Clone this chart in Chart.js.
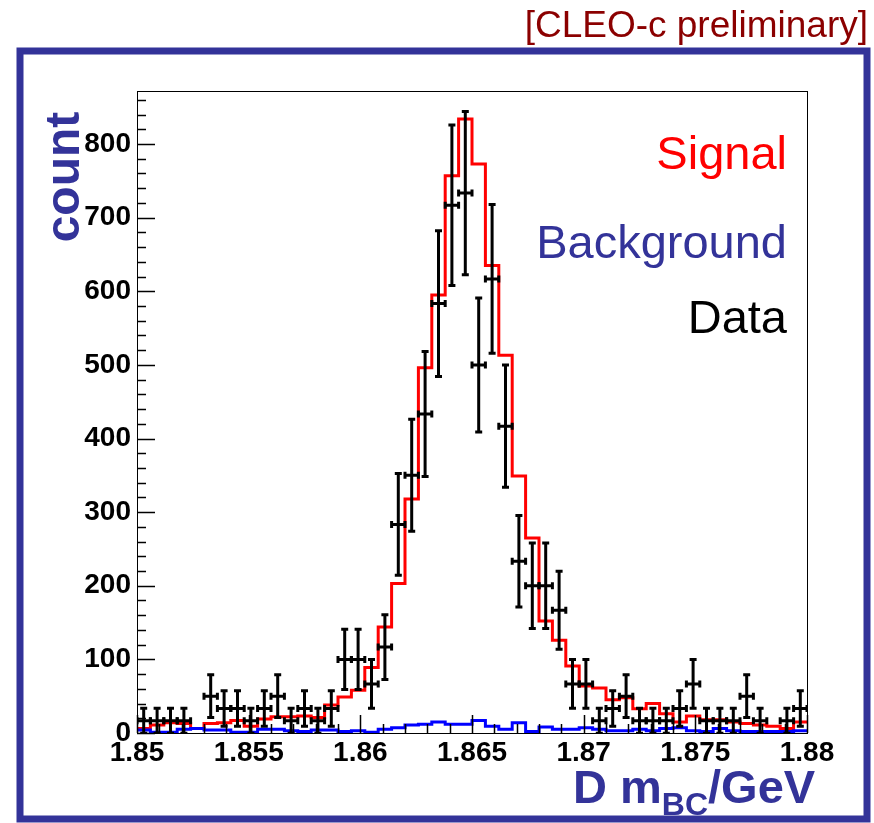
<!DOCTYPE html>
<html>
<head>
<meta charset="utf-8">
<script src="https://cdn.jsdelivr.net/npm/chart.js@4.4.1/dist/chart.umd.min.js"></script>
<style>
html, body { margin: 0; padding: 0; background: #fff; }
#wrap { width: 874px; height: 823px; position: relative; }
</style>
</head>
<body>
<div id="wrap"><canvas id="hist"></canvas></div>
<script>
// D m_BC histogram: 50 bins between 1.85 and 1.88 GeV
var xMin = 1.85, xMax = 1.88, nBins = 50;
var xTicks = [1.85, 1.855, 1.86, 1.865, 1.87, 1.875, 1.88];
var xTickLabels = ['1.85', '1.855', '1.86', '1.865', '1.87', '1.875', '1.88'];
var yTicks = [0, 100, 200, 300, 400, 500, 600, 700, 800];

// fitted signal (red)
var signal = [6, 11, 14, 13, 6, 13, 14, 17, 9, 19,
  22, 22, 23, 21, 38, 49, 58, 89, 144, 203,
  318, 496, 595, 757, 834, 773, 635, 513, 349, 265,
  152, 126, 91, 64, 61, 45, 48, 33, 40, 26,
  15, 23, 18, 18, 15, 13, 11, 9, 6, 15];

// background (blue)
var background = [4, 1, 1, 5, 6, 4, 4, 1, 1, 5,
  5, 3, 2, 4, 4, 2, 3, 1, 5, 7,
  11, 12, 15, 12, 12, 17, 9, 5, 14, 2,
  8, 5, 5, 7, 5, 3, 3, 5, 3, 6,
  7, 3, 2, 6, 3, 2, 2, 2, 2, 3];

// data points with errors (null = empty bin)
var counts = [16.7, 16.7, 16.7, 16.7, null, 50, 33.3, 33.3, 16.7, 33.3,
  50, 16.7, 33.3, 16.7, 33.3, 100, 100, 66.7, 116.7, 283.3,
  350, 433.3, 583.3, 716.7, 733.3, 500, 616.7, 416.7, 233.3, 200,
  200, 166.7, 66.7, 66.7, 16.7, 33.3, 50, 16.7, 16.7, 16.7,
  33.3, 66.7, 16.7, 16.7, 16.7, 50, 16.7, null, 16.7, 33.3];
var errors = [17, 17, 17, 17, null, 29, 24, 24, 17, 24,
  29, 17, 24, 17, 24, 41, 41, 33, 44, 69,
  76, 85, 99, 109, 111, 91, 101, 83, 62, 58,
  58, 53, 33, 33, 17, 24, 29, 17, 17, 17,
  24, 33, 17, 17, 17, 29, 17, null, 17, 24];

var binW = (xMax - xMin) / nBins;

function stepPoints(vals) {
  var pts = vals.map(function (v, i) { return { x: xMin + i * binW, y: v }; });
  pts.push({ x: xMax, y: vals[vals.length - 1] });
  return pts;
}

var FONT = '"Liberation Sans", Arial, sans-serif';
var TITLE_BLUE = '#333399';

var decor = {
  id: 'decor',
  beforeDraw: function (chart) {
    var c = chart.ctx;
    c.save();
    c.fillStyle = '#fff';
    c.fillRect(0, 0, chart.width, chart.height);
    c.strokeStyle = TITLE_BLUE;
    c.lineWidth = 7;
    c.strokeRect(20, 51, 847, 768);
    c.restore();
  },
  afterDatasetsDraw: function (chart) {
    var c = chart.ctx, a = chart.chartArea;
    var xs = chart.scales.x, ys = chart.scales.y;
    var meta = chart.getDatasetMeta(0);

    // error bars
    c.save();
    c.beginPath();
    c.rect(a.left, a.top, a.right - a.left, a.bottom - a.top);
    c.clip();
    c.strokeStyle = '#000';
    c.lineWidth = 3;
    var half = xs.getPixelForValue(xMin + binW / 2) - xs.getPixelForValue(xMin);
    meta.data.forEach(function (el, i) {
      if (counts[i] == null) return;
      var x = el.x, y = el.y;
      var yt = ys.getPixelForValue(counts[i] + errors[i]);
      var yb = ys.getPixelForValue(counts[i] - errors[i]);
      c.beginPath();
      c.moveTo(x, yt); c.lineTo(x, yb);
      c.moveTo(x - 3.5, yt); c.lineTo(x + 3.5, yt);
      c.moveTo(x - 3.5, yb); c.lineTo(x + 3.5, yb);
      c.moveTo(x - half, y); c.lineTo(x + half, y);
      c.moveTo(x - half, y - 3.5); c.lineTo(x - half, y + 3.5);
      c.moveTo(x + half, y - 3.5); c.lineTo(x + half, y + 3.5);
      c.stroke();
    });
    c.restore();

    // frame and inward ticks
    c.save();
    c.strokeStyle = '#000';
    c.lineWidth = 1;
    c.strokeRect(a.left + 0.5, a.top + 0.5, a.right - a.left, a.bottom - a.top);
    c.lineWidth = 1.5;
    c.beginPath();
    for (var k = 0; k <= 30; k++) {
      var px = Math.round(xs.getPixelForValue(xMin + k * 0.001)) + 0.5;
      var len = k % 5 === 0 ? 18 : 9;
      c.moveTo(px, a.bottom); c.lineTo(px, a.bottom - len);
    }
    for (var j = 0; j * 20 <= ys.max; j++) {
      var py = Math.round(ys.getPixelForValue(j * 20)) + 0.5;
      var l2 = j % 5 === 0 ? 18 : 9;
      c.moveTo(a.left, py); c.lineTo(a.left + l2, py);
    }
    c.stroke();
    c.restore();
  },
  afterDraw: function (chart) {
    var c = chart.ctx;
    c.save();
    c.textBaseline = 'alphabetic';

    c.font = '37px ' + FONT;
    c.fillStyle = '#8b0000';
    c.textAlign = 'right';
    c.fillText('[CLEO-c preliminary]', 868, 37);

    c.font = '47px ' + FONT;
    c.fillStyle = '#ff0000';
    c.fillText('Signal', 787, 169);
    c.fillStyle = TITLE_BLUE;
    c.fillText('Background', 787, 258);
    c.fillStyle = '#000';
    c.fillText('Data', 787, 333);

    // y title
    c.fillStyle = TITLE_BLUE;
    c.font = 'bold 48px ' + FONT;
    c.save();
    c.translate(79, 177);
    c.rotate(-Math.PI / 2);
    c.textAlign = 'center';
    c.fillText('count', 0, 0);
    c.restore();

    // x title with subscript
    c.textAlign = 'left';
    var x0 = 573;
    c.font = 'bold 47px ' + FONT;
    c.fillText('D m', x0, 803);
    x0 += c.measureText('D m').width;
    c.font = 'bold 32px ' + FONT;
    c.fillText('BC', x0, 815);
    x0 += c.measureText('BC').width;
    c.font = 'bold 47px ' + FONT;
    c.fillText('/GeV', x0, 803);
    c.restore();
  }
};

var tickFont = { family: FONT, weight: 'bold', size: 28 };

new Chart(document.getElementById('hist'), {
  type: 'line',
  data: {
    datasets: [
      {
        label: 'Data',
        type: 'scatter',
        data: counts.map(function (v, i) { return { x: xMin + (i + 0.5) * binW, y: v }; }),
        pointRadius: 0,
        showLine: false,
        order: 0
      },
      {
        label: 'Background',
        data: stepPoints(background),
        borderColor: '#0000ff',
        borderWidth: 3,
        pointRadius: 0,
        stepped: true,
        fill: false,
        order: 1
      },
      {
        label: 'Signal',
        data: stepPoints(signal),
        borderColor: '#ff0000',
        borderWidth: 3,
        pointRadius: 0,
        stepped: true,
        fill: false,
        order: 2
      }
    ]
  },
  options: {
    responsive: true,
    maintainAspectRatio: false,
    animation: false,
    devicePixelRatio: 1,
    layout: { padding: { left: 0, right: 67, top: 91, bottom: 0 } },
    plugins: { legend: { display: false }, tooltip: { enabled: false } },
    scales: {
      x: {
        type: 'linear',
        min: xMin,
        max: xMax,
        afterBuildTicks: function (s) { s.ticks = xTicks.map(function (v) { return { value: v }; }); },
        afterFit: function (s) { s.height = 90; },
        grid: { display: false, drawTicks: false },
        border: { display: false },
        ticks: {
          autoSkip: false,
          maxRotation: 0,
          padding: 3,
          color: '#000',
          font: tickFont,
          callback: function (v, i) { return xTickLabels[i]; }
        }
      },
      y: {
        type: 'linear',
        min: 0,
        max: 872,
        afterBuildTicks: function (s) { s.ticks = yTicks.map(function (v) { return { value: v }; }); },
        afterFit: function (s) { s.width = 137; },
        grid: { display: false, drawTicks: false },
        border: { display: false },
        ticks: { padding: 6, color: '#000', font: tickFont }
      }
    }
  },
  plugins: [decor]
});
</script>
</body>
</html>
